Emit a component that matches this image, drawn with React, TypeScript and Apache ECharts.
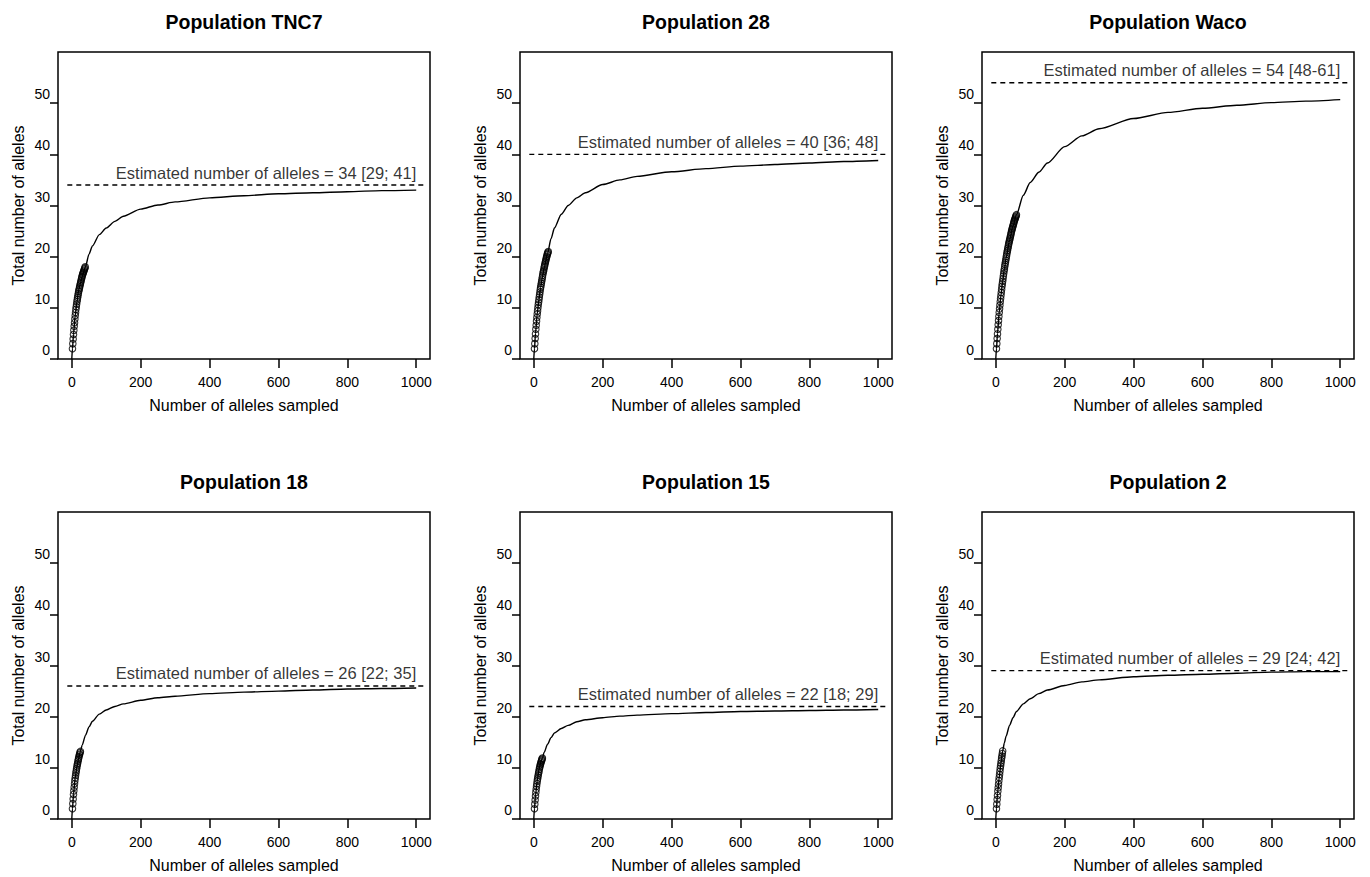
import React, { useEffect, useRef } from "react";
import * as echarts from "echarts";

const titles = [
  "Population TNC7",
  "Population 28",
  "Population Waco",
  "Population 18",
  "Population 15",
  "Population 2",
];
const estimates = [34, 40, 54, 26, 22, 29];
const intervals = ["[29; 41]", "[36; 48]", "[48-61]", "[22; 35]", "[18; 29]", "[24; 42]"];

const xTicks = [0, 200, 400, 600, 800, 1000];
const yTicks = [0, 10, 20, 30, 40, 50];

// sample sizes at which the rarefaction / extrapolation curve is read
const curveX = [0, 2, 5, 10, 15, 20, 25, 30, 40, 50, 60, 80, 100, 125, 150, 200, 250, 300, 400, 500, 600, 700, 800, 900, 1000];

const curveTNC7 = [0, 2, 4.8, 8.5, 11.2, 13.5, 14.7, 16.1, 18.1, 20.5, 22.1, 24.3, 25.6, 26.9, 27.9, 29.3, 30.1, 30.7, 31.5, 31.9, 32.3, 32.5, 32.7, 32.9, 33.0];
const curve28 = [0, 2, 5, 8.8, 11.6, 14, 16.0, 17.8, 20.6, 23.5, 25.6, 28.3, 30.0, 31.5, 32.5, 34.1, 35.0, 35.7, 36.6, 37.2, 37.7, 38.0, 38.3, 38.6, 38.8];
const curveWaco = [0, 2, 5, 9.1, 12.4, 15.2, 17.6, 19.7, 23.2, 26, 28.2, 32, 34.5, 36.5, 38.3, 41.5, 43.6, 45.0, 47.0, 48.2, 49.0, 49.6, 50.1, 50.4, 50.7];
const curve18 = [0, 2, 4.8, 8, 10.2, 11.9, 13.2, 14.4, 16.4, 18, 19.1, 20.5, 21.3, 22, 22.5, 23.2, 23.7, 24.0, 24.5, 24.8, 25.0, 25.2, 25.4, 25.5, 25.6];
const curve15 = [0, 2, 4.6, 7.4, 9.7, 11.1, 11.9, 13, 14.6, 15.9, 16.8, 17.7, 18.3, 19, 19.4, 19.8, 20.1, 20.3, 20.6, 20.8, 21.0, 21.1, 21.2, 21.3, 21.4];
const curve2 = [0, 2, 5, 8.1, 10.9, 13.3, 14.9, 16.2, 18.3, 19.8, 21, 22.5, 23.5, 24.5, 25.2, 26.1, 26.8, 27.2, 27.8, 28.1, 28.3, 28.5, 28.7, 28.8, 28.8];

// observed points (sample sizes 2, 3, 4, ...)
const obsTNC7 = [2, 3, 3.9, 4.8, 5.6, 6.4, 7.1, 7.8, 8.5, 9.1, 9.7, 10.2, 10.7, 11.2, 11.6, 12.0, 12.4, 12.8, 13.2, 13.5, 13.8, 14.1, 14.4, 14.7, 15.0, 15.3, 15.6, 15.9, 16.1, 16.4, 16.6, 16.8, 17.0, 17.2, 17.4, 17.6, 17.8, 18.0];
const obs28 = [2, 3, 4, 4.9, 5.8, 6.6, 7.4, 8.1, 8.8, 9.4, 10, 10.6, 11.1, 11.6, 12.1, 12.6, 13.1, 13.6, 14, 14.4, 14.8, 15.2, 15.6, 16, 16.4, 16.8, 17.1, 17.4, 17.8, 18.1, 18.4, 18.7, 19, 19.3, 19.6, 19.9, 20.1, 20.4, 20.6, 20.8, 21];
const obsWaco = [2, 3, 4, 4.9, 5.8, 6.7, 7.5, 8.3, 9.1, 9.8, 10.5, 11.2, 11.8, 12.4, 13, 13.6, 14.2, 14.7, 15.2, 15.7, 16.2, 16.7, 17.2, 17.6, 18.1, 18.5, 18.9, 19.3, 19.7, 20.1, 20.5, 20.9, 21.2, 21.6, 21.9, 22.3, 22.6, 22.9, 23.2, 23.5, 23.8, 24.1, 24.4, 24.7, 25, 25.3, 25.5, 25.8, 26, 26.3, 26.5, 26.8, 27, 27.2, 27.4, 27.6, 27.8, 28, 28.2];
const obs18 = [2, 3, 3.9, 4.8, 5.5, 6.2, 6.9, 7.5, 8.0, 8.5, 9.0, 9.4, 9.8, 10.2, 10.6, 10.9, 11.3, 11.6, 11.9, 12.2, 12.5, 12.7, 13.0, 13.2];
const obs15 = [2, 2.9, 3.7, 4.5, 5.2, 5.8, 6.4, 6.9, 7.4, 7.8, 8.2, 8.6, 9.0, 9.3, 9.7, 10.0, 10.3, 10.6, 10.8, 11.1, 11.3, 11.5, 11.7, 11.9];
const obs2 = [2, 2.9, 3.8, 4.6, 5.4, 6.1, 6.8, 7.5, 8.1, 8.7, 9.3, 9.9, 10.4, 10.9, 11.4, 11.9, 12.3, 12.8, 13.3];

const curves = [curveTNC7, curve28, curveWaco, curve18, curve15, curve2];
const observed = [obsTNC7, obs28, obsWaco, obs18, obs15, obs2];

const FONT = "'Liberation Sans', Arial, Helvetica, sans-serif";

export default function App() {
  const ref = useRef<HTMLDivElement>(null);

  useEffect(() => {
    if (!ref.current) return;
    const chart = echarts.init(ref.current, undefined, { renderer: "svg" });

    const boxLeft = 58;
    const colStep = 462;
    const boxTop = 52;
    const rowStep = 460;
    const boxW = 372;
    const boxH = 307;

    const grids: any[] = [];
    const xAxes: any[] = [];
    const yAxes: any[] = [];
    const series: any[] = [];
    const graphics: any[] = [];

    titles.forEach((t, i) => {
      const col = i % 3;
      const row = Math.floor(i / 3);
      const left = boxLeft + colStep * col;
      const top = boxTop + rowStep * row;
      grids.push({
        left,
        top,
        width: boxW,
        height: boxH,
        show: true,
        borderColor: "#000",
        borderWidth: 1.5,
        backgroundColor: "transparent",
      });
      xAxes.push({
        type: "value",
        gridIndex: i,
        min: -40,
        max: 1040,
        axisLine: { show: false, onZero: false },
        axisTick: {
          show: true,
          length: 9,
          lineStyle: { color: "#000", width: 1.5 },
          customValues: xTicks,
        },
        axisLabel: {
          customValues: xTicks,
          formatter: (v: number) => String(v),
          fontSize: 14,
          color: "#000",
          margin: 16,
          fontFamily: FONT,
        },
        splitLine: { show: false },
        name: "Number of alleles sampled",
        nameLocation: "middle",
        nameGap: 38,
        nameTextStyle: { fontSize: 16, color: "#000", fontFamily: FONT },
      });
      yAxes.push({
        type: "value",
        gridIndex: i,
        min: 0,
        max: 60,
        axisLine: { show: false, onZero: false },
        axisTick: {
          show: true,
          length: 8,
          lineStyle: { color: "#000", width: 1.5 },
          customValues: yTicks,
        },
        axisLabel: {
          customValues: yTicks,
          formatter: (v: number) => String(v),
          fontSize: 14,
          color: "#000",
          margin: 8,
          verticalAlign: "bottom",
          lineHeight: 18,
          fontFamily: FONT,
        },
        splitLine: { show: false },
        name: "Total number of alleles",
        nameLocation: "middle",
        nameGap: 32,
        nameRotate: 90,
        nameTextStyle: { fontSize: 16, color: "#000", fontFamily: FONT },
      });

      series.push({
        type: "line",
        xAxisIndex: i,
        yAxisIndex: i,
        data: curveX.map((x, j) => [x, curves[i][j]]),
        symbol: "none",
        smooth: 0.25,
        smoothMonotone: "x",
        lineStyle: { color: "#000", width: 1.4 },
        silent: true,
        z: 2,
      });
      series.push({
        type: "scatter",
        xAxisIndex: i,
        yAxisIndex: i,
        data: observed[i].map((y, j) => [j + 2, y]),
        symbol: "circle",
        symbolSize: 6.5,
        itemStyle: { color: "rgba(255,255,255,0)", borderColor: "#000", borderWidth: 1.1 },
        silent: true,
        z: 3,
      });
      series.push({
        type: "line",
        xAxisIndex: i,
        yAxisIndex: i,
        data: [
          [-13, estimates[i]],
          [1029, estimates[i]],
        ],
        symbol: "none",
        lineStyle: { color: "#000", width: 1.4, type: [5, 4] },
        silent: true,
        z: 2,
      });
      series.push({
        type: "scatter",
        xAxisIndex: i,
        yAxisIndex: i,
        data: [[1000, estimates[i]]],
        symbolSize: 1,
        itemStyle: { color: "rgba(0,0,0,0)" },
        label: {
          show: true,
          position: "inside",
          align: "right",
          verticalAlign: "middle",
          offset: [0, -12.5],
          formatter: `Estimated number of alleles = ${estimates[i]} ${intervals[i]}`,
          fontSize: 16.5,
          color: "#000",
          fontFamily: FONT,
        },
        silent: true,
        z: 4,
      });

      graphics.push({
        type: "text",
        x: left + boxW / 2,
        y: top - 30,
        style: {
          text: t,
          align: "center",
          verticalAlign: "middle",
          fontSize: 19.5,
          fontWeight: "bold",
          fill: "#000",
          fontFamily: FONT,
        },
      });
    });

    chart.setOption({
      animation: false,
      backgroundColor: "#fff",
      grid: grids,
      xAxis: xAxes,
      yAxis: yAxes,
      series,
      graphic: graphics,
    });

    return () => chart.dispose();
  }, []);

  return (
    <div
      ref={ref}
      style={{ position: "absolute", left: 0, top: 0, width: 1370, height: 877 }}
    />
  );
}
